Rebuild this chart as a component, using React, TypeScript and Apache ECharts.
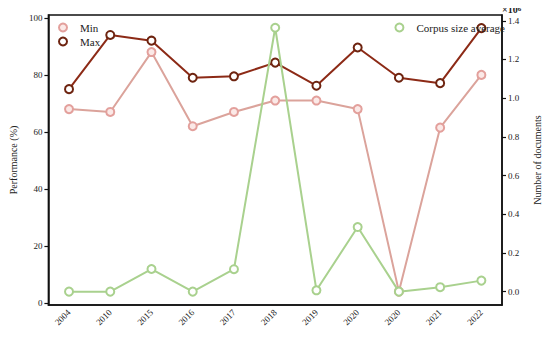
import React, { useEffect, useRef } from "react";
import * as echarts from "echarts";

const years = ["2004", "2010", "2015", "2016", "2017", "2018", "2019", "2020", "2020", "2021", "2022"];
const minPerf = [68, 67, 88, 62, 67, 71, 71, 68, 4, 61.5, 80];
const maxPerf = [75, 94, 92, 79, 79.5, 84.3, 76.2, 89.6, 79, 77.1, 96.4];
const corpusSize = [0, 0, 117000, 0, 116000, 1364000, 7000, 334000, 0, 23000, 57000];
const leftTicks = [0, 20, 40, 60, 80, 100];
const rightTicks = [0, 0.2, 0.4, 0.6, 0.8, 1.0, 1.2, 1.4];

const FONT = "Liberation Serif";
const MIN_COLOR = "#dba39b";
const MAX_COLOR = "#8c2a16";
const GREEN = "#a9d18e";

export default function App() {
  const ref = useRef<HTMLDivElement>(null);
  useEffect(() => {
    if (!ref.current) return;
    const chart = echarts.init(ref.current, undefined, { renderer: "svg" });
    const txt = { fontFamily: FONT, fontSize: 10, color: "#222" };
    chart.setOption({
      animation: false,
      backgroundColor: "#fff",
      textStyle: { fontFamily: FONT },
      title: {
        text: "{a|×10}{b|6}",
        left: 498,
        top: 3,
        padding: [0, 4, 0, 4],
        textStyle: {
          rich: {
            a: { fontFamily: FONT, fontSize: 10, color: "#222", height: 12, verticalAlign: "bottom" },
            b: { fontFamily: FONT, fontSize: 7, color: "#222", height: 12, verticalAlign: "top" },
          },
        },
      },
      grid: { left: 43, right: 38, top: 15, bottom: 32, show: true, borderColor: "#111", borderWidth: 1.5, backgroundColor: "transparent" },
      legend: [
        {
          data: ["Min", "Max"],
          orient: "vertical",
          left: 53,
          top: 17,
          itemWidth: 8,
          itemHeight: 8,
          itemGap: 3,
          icon: "circle",
          textStyle: { ...txt, fontSize: 11, padding: [0, 0, 0, 8] },
        },
        {
          data: ["Corpus size average"],
          right: 40,
          top: 17,
          itemWidth: 8,
          itemHeight: 8,
          icon: "circle",
          textStyle: { ...txt, fontSize: 11, padding: [0, 0, 0, 8] },
        },
      ],
      xAxis: {
        type: "category",
        data: years,
        boundaryGap: true,
        axisLine: { onZero: false, lineStyle: { color: "#111", width: 1.5 } },
        axisTick: { alignWithLabel: true, length: 4, lineStyle: { color: "#111", width: 1.2 } },
        axisLabel: { ...txt, fontSize: 9, rotate: 45, margin: 6, interval: 0 },
        splitLine: { show: false },
      },
      yAxis: [
        {
          type: "value",
          min: -0.7,
          max: 101,
          name: "Performance (%)",
          nameLocation: "middle",
          nameGap: 28,
          nameTextStyle: { ...txt, fontSize: 10 },
          axisLine: { show: true, lineStyle: { color: "#111", width: 1.5 } },
          axisTick: { show: true, length: 4, customValues: leftTicks, lineStyle: { color: "#111", width: 1.2 } },
          axisLabel: {
            ...txt,
            fontSize: 9,
            margin: 6,
            customValues: leftTicks,
            formatter: (v: number) => String(Math.round(v)),
          },
          splitLine: { show: false },
        },
        {
          type: "value",
          min: -69000,
          max: 1430000,
          name: "Number of documents",
          nameLocation: "middle",
          nameGap: 30,
          nameRotate: 90,
          nameTextStyle: { ...txt, fontSize: 10 },
          axisLine: { show: true, lineStyle: { color: "#111", width: 1.5 } },
          axisTick: { show: true, length: 4, customValues: rightTicks.map((v) => v * 1e6), lineStyle: { color: "#111", width: 1.2 } },
          axisLabel: {
            ...txt,
            fontSize: 9,
            margin: 6,
            customValues: rightTicks.map((v) => v * 1e6),
            formatter: (v: number) => (v / 1e6).toFixed(1),
          },
          splitLine: { show: false },
        },
      ],
      series: [
        {
          name: "Min",
          type: "line",
          yAxisIndex: 0,
          data: minPerf,
          symbol: "circle",
          symbolSize: 8,
          lineStyle: { color: MIN_COLOR, width: 2 },
          itemStyle: { color: "#fbe9e7", borderColor: "#e3a09c", borderWidth: 2 },
          z: 2,
        },
        {
          name: "Max",
          type: "line",
          yAxisIndex: 0,
          data: maxPerf,
          symbol: "circle",
          symbolSize: 8,
          lineStyle: { color: MAX_COLOR, width: 2 },
          itemStyle: { color: "#fff", borderColor: "#6e2410", borderWidth: 2 },
          z: 3,
        },
        {
          name: "Corpus size average",
          type: "line",
          yAxisIndex: 1,
          data: corpusSize,
          symbol: "circle",
          symbolSize: 8,
          lineStyle: { color: GREEN, width: 2 },
          itemStyle: { color: "#fff", borderColor: GREEN, borderWidth: 2 },
          z: 4,
        },
      ],
    });
    return () => chart.dispose();
  }, []);
  return <div ref={ref} style={{ width: 550, height: 337, margin: -8 }} />;
}
